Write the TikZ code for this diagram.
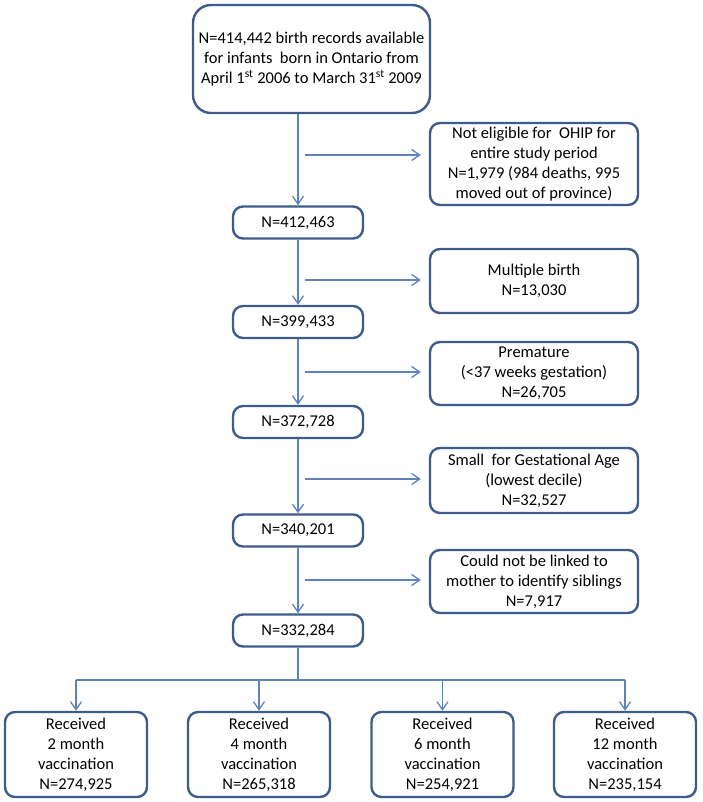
\documentclass[tikz,border=0pt]{standalone}
\usepackage{fontspec}
\setmainfont{Carlito}
\usepackage{tikz}
\usetikzlibrary{arrows.meta}
\definecolor{boxline}{RGB}{62,92,138}
\definecolor{arrowline}{RGB}{96,130,185}
\tikzset{x=1pt, y=-1pt, auto,
  box/.style={draw=boxline, line width=2.4pt, rounded corners=10pt, fill=white,
    align=center, inner sep=2pt, font=\fontsize{16.5}{20}\selectfont},
  mainbox/.style={box, minimum width=130pt, minimum height=32pt},
  sidebox/.style={box, minimum width=208pt},
  endbox/.style={box, minimum width=142pt, minimum height=85pt},
  flow/.style={draw=arrowline, line width=1.3pt},
  flowarrow/.style={flow, -{Straight Barb[length=8pt,width=11pt,line width=1.3pt]}}}

\begin{document}
\begin{tikzpicture}
		\useasboundingbox (0,0) rectangle (702,802);
		% records and exclusions
		\node[box, rounded corners=18pt, minimum width=237pt, minimum height=108pt](Top) at (311.5,59)
			{N=414,442 birth records available\\for infants\ \ born in Ontario from\\April 1\textsuperscript{st} 2006 to March 31\textsuperscript{st} 2009};
		\node[mainbox](N1) at (298,222.5){N=412,463};
		\node[mainbox](N2) at (298,322){N=399,433};
		\node[mainbox](N3) at (298,422){N=372,728};
		\node[mainbox](N4) at (298,530.5){N=340,201};
		\node[mainbox](N5) at (298,630.5){N=332,284};
		\node[sidebox, minimum height=82pt](X1) at (534,164)
			{Not eligible for\ \ OHIP for\\entire study period\\N=1,979 (984 deaths, 995\\moved out of province)};
		\node[sidebox, minimum height=64pt](X2) at (534,281){Multiple birth\\N=13,030};
		\node[sidebox, minimum height=63pt](X3) at (534,373.5){Premature\\(<37 weeks gestation)\\N=26,705};
		\node[sidebox, minimum height=65pt](X4) at (534,480.5){Small\ \ for Gestational Age\\(lowest decile)\\N=32,527};
		\node[sidebox, minimum height=63pt](X5) at (534,581.5){Could not be linked to\\mother to identify siblings\\N=7,917};
		% vaccination outcomes
		\node[endbox](R1) at (76,754.5){Received\\2 month\\vaccination\\N=274,925};
		\node[endbox](R2) at (259,754.5){Received\\4 month\\vaccination\\N=265,318};
		\node[endbox](R3) at (442.5,754.5){Received\\6 month\\vaccination\\N=254,921};
		\node[endbox](R4) at (625,754.5){Received\\12 month\\vaccination\\N=235,154};
		\coordinate(S1) at (305,155);
		\coordinate(S2) at (305,280);
		\coordinate(S3) at (305,372);
		\coordinate(S4) at (305,479);
		\coordinate(S5) at (305,580);
		\coordinate(Split) at (298,680);
		\draw[flowarrow](Top.south -| N1.north) to (N1.north);
		\draw[flowarrow](N1) to (N2);
		\draw[flowarrow](N2) to (N3);
		\draw[flowarrow](N3) to (N4);
		\draw[flowarrow](N4) to (N5);
		\foreach \s/\x in {S1/X1, S2/X2, S3/X3, S4/X4, S5/X5}
			\draw[flowarrow, shorten >=8pt](\s) to (\s -| \x.west);
		\draw[flow](N5) to (Split);
		\draw[flow](Split -| R1.north) to (Split -| R4.north);
		\foreach \r in {R1, R2, R3, R4}
			\draw[flowarrow](Split -| \r.north) to (\r.north);
	\end{tikzpicture}
\end{document}
